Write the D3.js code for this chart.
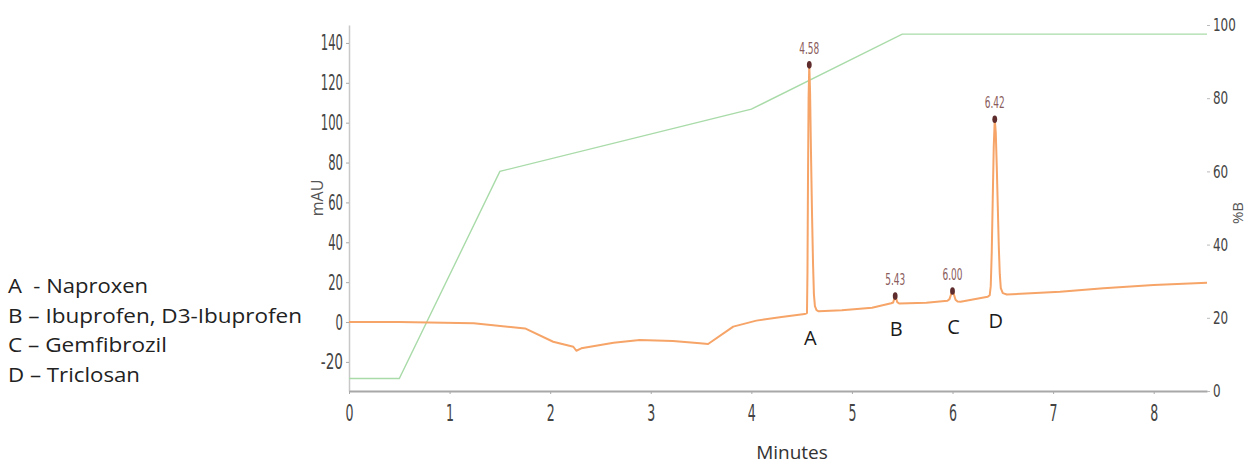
<!DOCTYPE html>
<html>
<head>
<meta charset="utf-8">
<script src="https://cdn.jsdelivr.net/npm/d3@7"></script>
<style>
    body { margin: 0; background: #fff; }
    .tick-num { font-family: "DejaVu Sans Condensed", "Liberation Sans Narrow", sans-serif; fill: #444; }
    .plain { font-family: "Open Sans", "Noto Sans", sans-serif; }
</style>
</head>
<body>
<div id="chart"></div>
<script>

// chromatogram trace (minutes / mAU)
var traceTime = [0, 0.5, 1.24, 1.75, 2.03, 2.23, 2.26, 2.31, 2.63, 2.89, 3.22, 3.49, 3.57, 3.82, 4.05, 4.3, 4.53,
    4.553, 4.558, 4.563, 4.569, 4.576, 4.584, 4.593, 4.603, 4.613, 4.622, 4.632, 4.648, 4.67,
    4.9, 5.2, 5.39, 5.41, 5.42, 5.43, 5.44, 5.45, 5.47, 5.74, 5.95, 5.97, 5.99, 6.00, 6.01, 6.03, 6.05, 6.08, 6.35,
    6.37, 6.38, 6.39, 6.40, 6.41, 6.42, 6.43, 6.44, 6.45, 6.46, 6.47, 6.48, 6.50, 6.54, 7.07, 7.5, 8.0, 8.53];
var traceMAU = [0, 0, -0.6, -3.2, -9.9, -12.4, -14.4, -13.2, -10.4, -9.0, -9.5, -10.7, -11.0, -2.3, 0.7, 2.5, 4.0,
    4.5, 25, 70, 112, 129, 115, 85, 55, 30, 14, 8, 6, 5.4,
    5.9, 7.2, 9.4, 9.8, 11.5, 13.0, 11.8, 10.0, 9.3, 9.7, 10.7, 11.5, 14.5, 15.6, 14.5, 11.2, 10.3, 10.2, 12.7,
    13.5, 18, 35, 62, 88, 101.7, 95, 78, 58, 38, 24, 17, 14.5, 13.8, 15.2, 17.0, 18.6, 19.7];

// solvent gradient (minutes / %B)
var gradientTime = [0, 0.5, 1.5, 4.0, 5.5, 8.53];
var gradientB = [3.4, 3.4, 60, 77, 97.5, 97.5];

// integrated peaks
var peakTimes = [4.576, 5.43, 6.00, 6.42];
var peakMAU = [129, 13.0, 15.6, 101.7];
var peakLabels = ["4.58", "5.43", "6.00", "6.42"];
var peakLetters = ["A", "B", "C", "D"];
var peakBaseline = [5.2, 9.4, 10.5, 13.5];

var legendItems = ["A  - Naproxen", "B \u2013 Ibuprofen, D3-Ibuprofen", "C \u2013 Gemfibrozil", "D \u2013 Triclosan"];

var minuteTicks = [0, 1, 2, 3, 4, 5, 6, 7, 8];
var mauTicks = [-20, 0, 20, 40, 60, 80, 100, 120, 140];
var percentTicks = [0, 20, 40, 60, 80, 100];


/*
 * ChromVis - Object constructor function
 * @param _parentElement  -- the HTML element in which to draw the visualization
 */

ChromVis = function(_parentElement){
    this.parentElement = _parentElement;
    this.initVis();
}


/*
 * Initialize visualization (svg, scales, axes)
 */

ChromVis.prototype.initVis = function(){
    var vis = this;

    vis.width = 1247;
    vis.height = 466;

    vis.svg = d3.select("#" + vis.parentElement).append("svg")
        .attr("width", vis.width)
        .attr("height", vis.height);

    vis.x = d3.scaleLinear().domain([0, 8.53]).range([349, 1207]);
    vis.yLeft = d3.scaleLinear().domain([-34.6, 149]).range([391, 25]);
    vis.yRight = d3.scaleLinear().domain([0, 100]).range([391, 25]);

    // squeeze the number labels, the original font is very narrow
    function narrow(sel, perChar, size){
        sel.selectAll(".tick text")
            .attr("class", "tick-num")
            .style("font-size", size + "px")
            .attr("textLength", function(d){ return String(d).length * perChar; })
            .attr("lengthAdjust", "spacingAndGlyphs");
    }

    var gLeft = vis.svg.append("g")
        .attr("transform", "translate(349,0)")
        .call(d3.axisLeft(vis.yLeft).tickValues(mauTicks).tickFormat(function(d){ return String(d); })
            .tickSize(3).tickSizeOuter(0).tickPadding(3));
    gLeft.select(".domain").attr("stroke", "#c8c8c8").attr("stroke-width", 1.5);
    gLeft.selectAll(".tick line").attr("stroke", "#aaa");
    narrow(gLeft, 7.4, 22);

    var gBottom = vis.svg.append("g")
        .attr("transform", "translate(0,391)")
        .call(d3.axisBottom(vis.x).tickValues(minuteTicks).tickSize(3).tickSizeOuter(0).tickPadding(11));
    gBottom.select(".domain").attr("stroke", "#a8a8a8").attr("stroke-width", 2.2);
    gBottom.selectAll(".tick line").attr("stroke", "#aaa");
    narrow(gBottom, 8, 23);

    var gRight = vis.svg.append("g")
        .attr("transform", "translate(1207,0)")
        .call(d3.axisRight(vis.yRight).tickValues(percentTicks).tickSize(3).tickPadding(3));
    gRight.select(".domain").remove();
    gRight.selectAll(".tick line").attr("stroke", "#bbb");
    narrow(gRight, 7.6, 18);

    // axis titles
    vis.svg.append("text")
        .attr("class", "plain")
        .attr("transform", "translate(323,198) rotate(-90)")
        .attr("text-anchor", "middle")
        .style("font-size", "16px")
        .style("fill", "#555")
        .text("mAU");

    vis.svg.append("text")
        .attr("class", "plain")
        .attr("transform", "translate(1243,213) rotate(-90)")
        .attr("text-anchor", "middle")
        .style("font-size", "15px")
        .style("fill", "#555")
        .text("%B");

    vis.svg.append("text")
        .attr("class", "plain")
        .attr("x", 792)
        .attr("y", 459)
        .attr("text-anchor", "middle")
        .style("font-size", "19px")
        .style("fill", "#333")
        .text("Minutes");

    vis.wrangleData();
}


/*
 * Data wrangling
 */

ChromVis.prototype.wrangleData = function(){
    var vis = this;

    vis.trace = traceTime.map(function(t, i){ return {t: t, v: traceMAU[i]}; });
    vis.gradient = gradientTime.map(function(t, i){ return {t: t, v: gradientB[i]}; });
    vis.peaks = peakTimes.map(function(t, i){
        return {t: t, v: peakMAU[i], label: peakLabels[i], letter: peakLetters[i], base: peakBaseline[i]};
    });

    vis.updateVis();
}


/*
 * The drawing function
 */

ChromVis.prototype.updateVis = function(){
    var vis = this;

    var gradLine = d3.line()
        .x(function(d){ return vis.x(d.t); })
        .y(function(d){ return vis.yRight(d.v); });

    vis.svg.append("path")
        .datum(vis.gradient)
        .attr("fill", "none")
        .attr("stroke", "#a9dba9")
        .attr("stroke-width", 1.4)
        .attr("d", gradLine);

    var traceLine = d3.line()
        .x(function(d){ return vis.x(d.t); })
        .y(function(d){ return vis.yLeft(d.v); });

    vis.svg.append("path")
        .datum(vis.trace)
        .attr("fill", "none")
        .attr("stroke", "#f6a468")
        .attr("stroke-width", 2)
        .attr("stroke-linejoin", "round")
        .attr("d", traceLine);

    var peak = vis.svg.selectAll(".peak")
        .data(vis.peaks)
        .enter().append("g")
        .attr("class", "peak");

    peak.append("ellipse")
        .attr("cx", function(d){ return vis.x(d.t); })
        .attr("cy", function(d){ return vis.yLeft(d.v); })
        .attr("rx", 2.4)
        .attr("ry", 3.8)
        .attr("fill", "#5e2c2c");

    peak.append("text")
        .attr("class", "tick-num")
        .attr("x", function(d){ return vis.x(d.t); })
        .attr("y", function(d){ return vis.yLeft(d.v) - 11; })
        .attr("text-anchor", "middle")
        .attr("textLength", 20)
        .attr("lengthAdjust", "spacingAndGlyphs")
        .style("font-size", "16px")
        .style("fill", "#8a5c5c")
        .text(function(d){ return d.label; });

    peak.append("text")
        .attr("class", "plain")
        .attr("x", function(d){ return vis.x(d.t) + 1; })
        .attr("y", function(d){ return vis.yLeft(d.base) + 33; })
        .attr("text-anchor", "middle")
        .style("font-size", "20px")
        .style("fill", "#1a1a1a")
        .text(function(d){ return d.letter; });

    // compound key on the left
    var legendWidths = [140, 294, 159, 132];
    vis.svg.selectAll(".legend")
        .data(legendItems)
        .enter().append("text")
        .attr("class", "legend plain")
        .attr("x", 8)
        .attr("y", function(d, i){ return 293 + i * 29.5; })
        .attr("textLength", function(d, i){ return legendWidths[i]; })
        .attr("lengthAdjust", "spacingAndGlyphs")
        .style("white-space", "pre")
        .style("font-size", "20px")
        .style("fill", "#222")
        .text(function(d){ return d; });
}

var chart = new ChromVis("chart");

</script>
</body>
</html>
